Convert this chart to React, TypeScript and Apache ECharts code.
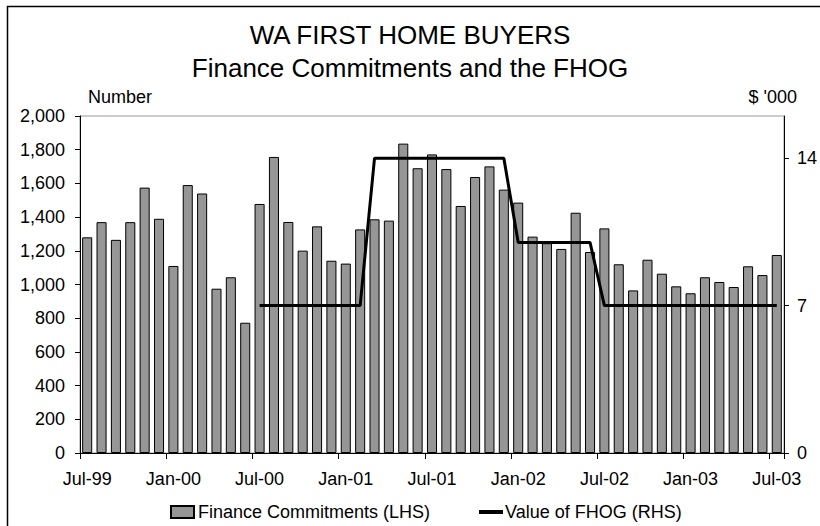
import React, { useEffect, useRef } from "react";
import * as echarts from "echarts";

const categories = [
  "Jul-99","Aug-99","Sep-99","Oct-99","Nov-99","Dec-99",
  "Jan-00","Feb-00","Mar-00","Apr-00","May-00","Jun-00",
  "Jul-00","Aug-00","Sep-00","Oct-00","Nov-00","Dec-00",
  "Jan-01","Feb-01","Mar-01","Apr-01","May-01","Jun-01",
  "Jul-01","Aug-01","Sep-01","Oct-01","Nov-01","Dec-01",
  "Jan-02","Feb-02","Mar-02","Apr-02","May-02","Jun-02",
  "Jul-02","Aug-02","Sep-02","Oct-02","Nov-02","Dec-02",
  "Jan-03","Feb-03","Mar-03","Apr-03","May-03","Jun-03",
  "Jul-03",
];

const financeCommitments = [
  1280, 1370, 1265, 1370, 1575, 1390,
  1110, 1590, 1540, 975, 1043, 773,
  1478, 1757, 1371, 1201, 1345, 1141,
  1124, 1327, 1387, 1379, 1836, 1690,
  1772, 1685, 1466, 1638, 1701, 1563,
  1486, 1284, 1245, 1211, 1426, 1193,
  1333, 1120, 965, 1147, 1064, 989,
  948, 1043, 1015, 985, 1108, 1056,
  1175,
];

const fhogValue = [
  null, null, null, null, null, null,
  null, null, null, null, null, null,
  7, 7, 7, 7, 7, 7,
  7, 7, 14, 14, 14, 14,
  14, 14, 14, 14, 14, 14,
  10, 10, 10, 10, 10, 10,
  7, 7, 7, 7, 7, 7,
  7, 7, 7, 7, 7, 7,
  7,
];

const rightTicks = [0, 7, 14];

const FONT = "'Liberation Sans', Arial, sans-serif";

export default function App() {
  const ref = useRef<HTMLDivElement>(null);
  useEffect(() => {
    if (!ref.current) return;
    const chart = echarts.init(ref.current, undefined, { renderer: "svg" });
    const black = "#000";
    chart.setOption({
      animation: false,
      backgroundColor: "#fff",
      textStyle: { fontFamily: FONT },
      graphic: [
        { type: "rect", shape: { x: 7.5, y: 6.5, width: 900, height: 600 }, style: { fill: "none", stroke: "#000", lineWidth: 1.5 }, silent: true },
        { type: "text", x: 410, y: 35, style: { text: "WA FIRST HOME BUYERS", fontSize: 26, fontFamily: FONT, fill: "#000", textAlign: "center", textVerticalAlign: "middle" } },
        { type: "text", x: 410, y: 68, style: { text: "Finance Commitments and the FHOG", fontSize: 26, fontFamily: FONT, fill: "#000", textAlign: "center", textVerticalAlign: "middle" } },
        { type: "text", x: 88, y: 97, style: { text: "Number", fontSize: 18, fontFamily: FONT, fill: "#000", textAlign: "left", textVerticalAlign: "middle" } },
        { type: "text", x: 797, y: 97, style: { text: "$ '000", fontSize: 18, fontFamily: FONT, fill: "#000", textAlign: "right", textVerticalAlign: "middle" } },
      ],
      grid: {
        left: 80, right: 36, top: 116, bottom: 73,
        show: true, borderColor: "#999", borderWidth: 1, backgroundColor: "transparent",
      },
      legend: [
        {
          data: [{ name: "Finance Commitments (LHS)", icon: "rect" }],
          left: 165, top: 498, itemWidth: 23, itemHeight: 12, itemGap: 4,
          textStyle: { fontSize: 18, fontFamily: FONT, color: "#000", padding: [0, 0, 0, -1] },
        },
        {
          data: [{ name: "Value of FHOG (RHS)", icon: "rect" }],
          left: 474, top: 498, itemWidth: 24, itemHeight: 4,
          textStyle: { fontSize: 18, fontFamily: FONT, color: "#000", padding: [0, 0, 0, -3] },
        },
      ],
      xAxis: {
        type: "category",
        data: categories,
        boundaryGap: true,
        axisLine: { show: true, lineStyle: { color: black, width: 1 } },
        axisTick: { show: true, interval: 5, length: 6, lineStyle: { color: black } },
        axisLabel: { show: true, interval: 5, fontSize: 18, fontFamily: FONT, color: "#000", margin: 17 },
        splitLine: { show: false },
      },
      yAxis: [
        {
          type: "value",
          min: 0,
          max: 2000,
          interval: 200,
          axisLine: { show: true, lineStyle: { color: black } },
          axisTick: { show: true, length: 5, lineStyle: { color: black } },
          axisLabel: {
            fontSize: 18, fontFamily: FONT, color: "#000", margin: 15,
            formatter: (v: number) => v.toLocaleString("en-US"),
          },
          splitLine: { show: false },
        },
        {
          type: "value",
          position: "right",
          min: 0,
          max: 16,
          axisLine: { show: true, lineStyle: { color: black } },
          axisTick: { show: true, length: 5, lineStyle: { color: black }, customValues: rightTicks },
          axisLabel: { fontSize: 18, fontFamily: FONT, color: "#000", margin: 13, customValues: rightTicks },
          splitLine: { show: false },
        },
      ],
      series: [
        {
          name: "Finance Commitments (LHS)",
          type: "bar",
          yAxisIndex: 0,
          data: financeCommitments,
          barCategoryGap: "30%",
          itemStyle: { color: "#969696", borderColor: "#000", borderWidth: 1 },
        },
        {
          name: "Value of FHOG (RHS)",
          type: "line",
          yAxisIndex: 1,
          data: fhogValue,
          symbol: "none",
          showSymbol: false,
          lineStyle: { color: "#000", width: 3 },
          itemStyle: { color: "#000" },
        },
      ],
    });
    return () => chart.dispose();
  }, []);
  return <div ref={ref} style={{ position: "fixed", left: 0, top: 0, width: 820, height: 526 }} />;
}
